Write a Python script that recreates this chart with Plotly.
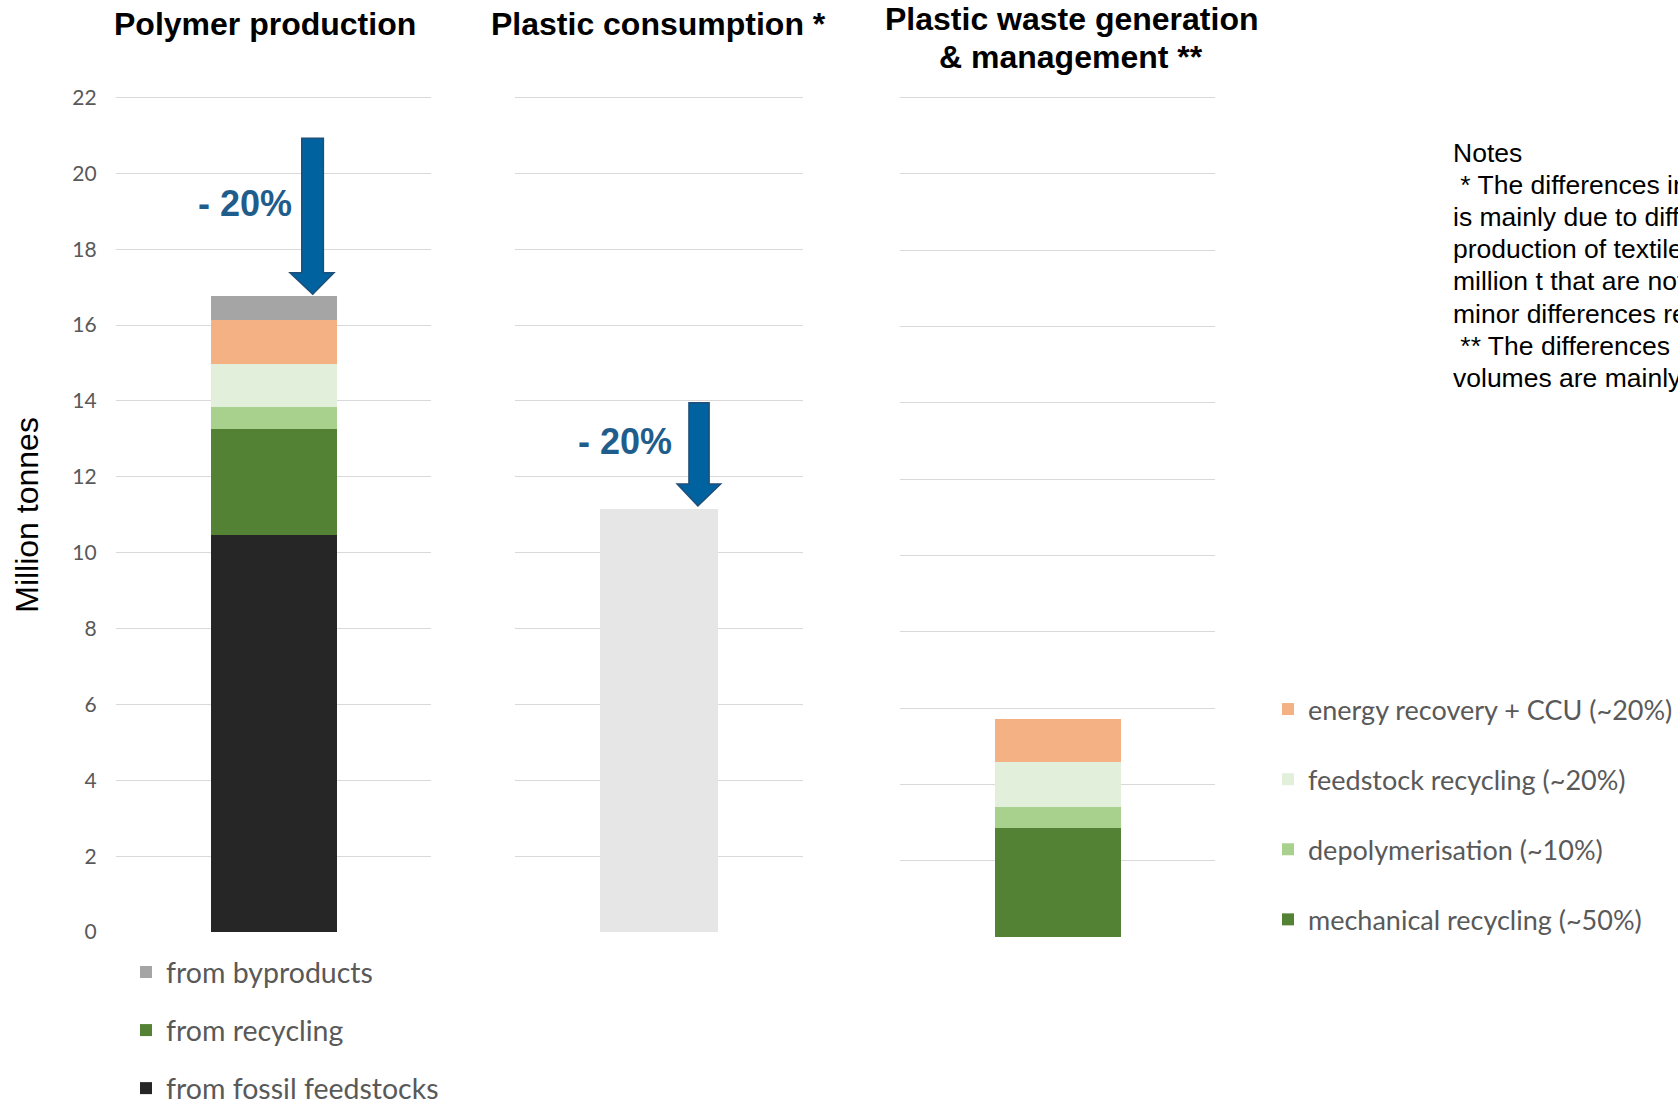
import plotly.graph_objects as go

# ---------------- data ----------------
panel_titles = ["Polymer production", "Plastic consumption *",
                "Plastic waste generation<br>& management **"]
poly_cat = ["Polymer production"]
cons_cat = ["Plastic consumption"]
waste_cat = ["Plastic waste"]

fossil_feedstocks = [10.47]
poly_mechanical = [2.80]
poly_depolymerisation = [0.57]
poly_feedstock = [1.15]
poly_energy = [1.15]
from_byproducts = [0.64]

plastic_consumption = [11.17]

waste_mechanical = [2.85]
waste_depolymerisation = [0.55]
waste_feedstock = [1.18]
waste_energy = [1.12]

legend1_labels = ["from byproducts", "from recycling", "from fossil feedstocks"]
legend2_labels = ["energy recovery + CCU (~20%)", "feedstock recycling (~20%)",
                  "depolymerisation (~10%)", "mechanical recycling (~50%)"]

reduction_label = "- 20%"
# arrows: (top value, head start value, tip value) in data units
arrow_poly = [20.92, 17.38, 16.81]
arrow_cons = [13.95, 11.81, 11.23]

notes_lines = [
    "Notes",
    "\u00a0* The differences in polymer production and plastic consumption",
    "is mainly due to differences in the scope, e.g. the",
    "production of textile fibres of approx. 3",
    "million t that are not included in plastic consumption;",
    "minor differences result from trade.",
    "\u00a0** The differences between consumption and waste",
    "volumes are mainly due to long-lived products.",
]

# ---------------- styles ----------------
C_FOSSIL = "#262626"
C_MECH = "#548235"
C_DEPOL = "#A9D18E"
C_FEED = "#E2EFDA"
C_ENERGY = "#F4B183"
C_BYPROD = "#A5A5A5"
C_CONS = "#E7E6E6"
GRID = "#D9D9D9"
ARROW_FILL = "#00629E"
ARROW_LINE = "#1F4E79"
PCT_COLOR = "#1F5E8C"
LEG_FONT1 = dict(family="Lato, Carlito, sans-serif", size=28.5, color="#595959")
LEG_FONT2 = dict(family="Lato, Carlito, sans-serif", size=27, color="#595959")
TITLE_FONT = dict(family="Liberation Sans, Arial, sans-serif", size=32, color="#000000")

W, H = 1678, 1101
YTOP = 22.05  # a hair above 22 so the top gridline is drawn

fig = go.Figure()
BW = 0.4


def bar(x, y, color, axis, name, legend=None, rank=None, show=False, width=BW):
    return go.Bar(x=x, y=y, name=name, marker=dict(color=color, line=dict(width=0)),
                  width=width, xaxis="x" + axis, yaxis="y" + axis,
                  legend=legend if legend else "legend", legendrank=rank if rank else 1000,
                  showlegend=show, legendgroup=name, hoverinfo="skip")


fig.add_trace(bar(poly_cat, fossil_feedstocks, C_FOSSIL, "", legend1_labels[2], "legend", 3, True))
fig.add_trace(bar(poly_cat, poly_mechanical, C_MECH, "", legend1_labels[1], "legend", 2, True))
fig.add_trace(bar(poly_cat, poly_depolymerisation, C_DEPOL, "", "p_depol"))
fig.add_trace(bar(poly_cat, poly_feedstock, C_FEED, "", "p_feed"))
fig.add_trace(bar(poly_cat, poly_energy, C_ENERGY, "", "p_energy"))
fig.add_trace(bar(poly_cat, from_byproducts, C_BYPROD, "", legend1_labels[0], "legend", 1, True))

fig.add_trace(bar(cons_cat, plastic_consumption, C_CONS, "2", "consumption", width=0.412))

fig.add_trace(bar(waste_cat, waste_mechanical, C_MECH, "3", legend2_labels[3], "legend2", 4, True))
fig.add_trace(bar(waste_cat, waste_depolymerisation, C_DEPOL, "3", legend2_labels[2], "legend2", 3, True))
fig.add_trace(bar(waste_cat, waste_feedstock, C_FEED, "3", legend2_labels[1], "legend2", 2, True))
fig.add_trace(bar(waste_cat, waste_energy, C_ENERGY, "3", legend2_labels[0], "legend2", 1, True))

# panel domains (paper fractions); pixel rows of value 0 and value 22
xdom = [[115.6 / W, 431.0 / W], [515.0 / W, 803.0 / W], [900.0 / W, 1215.0 / W]]
zero_px = [932.1, 932.1, 937.3]
top_px = [97.4, 97.4, 97.4]
ydom = []
for z, t in zip(zero_px, top_px):
    per = (z - t) / 22.0
    ydom.append([1 - z / H, 1 - (z - per * YTOP) / H])

yaxis_common = dict(range=[0, YTOP], tickvals=list(range(0, 23, 2)), showgrid=True,
                    gridcolor=GRID, gridwidth=1.3, zeroline=False, showline=False,
                    fixedrange=True, automargin=False)
xaxis_common = dict(range=[-0.5, 0.5], showticklabels=False, showgrid=False, zeroline=False,
                    showline=False, type="category", automargin=False, fixedrange=True)

layout = dict(
    width=W, height=H, barmode="stack", plot_bgcolor="white", paper_bgcolor="white",
    margin=dict(l=0, r=0, t=0, b=0, autoexpand=False), bargap=0,
    xaxis=dict(domain=xdom[0], anchor="y", **xaxis_common),
    xaxis2=dict(domain=xdom[1], anchor="y2", **xaxis_common),
    xaxis3=dict(domain=xdom[2], anchor="y3", **xaxis_common),
    yaxis=dict(domain=ydom[0], anchor="x", showticklabels=True,
               tickfont=dict(family="Lato, Carlito, sans-serif", size=21, color="#595959"),
               ticklabelstandoff=18, **yaxis_common),
    yaxis2=dict(domain=ydom[1], anchor="x2", showticklabels=False, **yaxis_common),
    yaxis3=dict(domain=ydom[2], anchor="x3", showticklabels=False, **yaxis_common),
    legend=dict(x=126 / W, y=1 - 947 / H, xanchor="left", yanchor="top", font=LEG_FONT1,
                tracegroupgap=18, traceorder="grouped", bgcolor="rgba(0,0,0,0)"),
    legend2=dict(x=1268 / W, y=1 - 685 / H, xanchor="left", yanchor="top", font=LEG_FONT2,
                 tracegroupgap=32, traceorder="grouped", bgcolor="rgba(0,0,0,0)"),
)
fig.update_layout(**layout)

# panel titles (multi-line titles placed line by line)
title_x = [265.4 / W, 658.7 / W, 1071.0 / W]
title_y = [23.5, 23.5, 19.3]
LINE_STEP = 37.4
for t, x, y0 in zip(panel_titles, title_x, title_y):
    for i, line in enumerate(t.split("<br>")):
        fig.add_annotation(text="<b>" + line + "</b>", x=x, y=1 - (y0 + i * LINE_STEP) / H,
                           xref="paper", yref="paper", xanchor="center", yanchor="middle",
                           showarrow=False, font=TITLE_FONT)

# y-axis title
fig.add_annotation(text="Million tonnes", x=27 / W, y=1 - 481 * 1.0702 / H, xref="paper",
                   yref="paper", textangle=-90, showarrow=False, xanchor="center",
                   yanchor="middle",
                   font=dict(family="Liberation Sans, Arial, sans-serif", size=32, color="#000000"))


# arrows (shape paths in axis-domain x / data y)
def arrow_path(vals, shaft, head, tip_x):
    top, hs, tip = vals
    return (f"M {shaft[0]} {top} L {shaft[1]} {top} L {shaft[1]} {hs} L {head[1]} {hs} "
            f"L {tip_x} {tip} L {head[0]} {hs} L {shaft[0]} {hs} Z")


fig.add_shape(type="path", xref="x domain", yref="y",
              path=arrow_path(arrow_poly, (0.5903, 0.6588), (0.5529, 0.6924), 0.6250),
              fillcolor=ARROW_FILL, line=dict(color=ARROW_LINE, width=1.5))
fig.add_shape(type="path", xref="x2 domain", yref="y2",
              path=arrow_path(arrow_cons, (0.604, 0.674), (0.563, 0.714), 0.635),
              fillcolor=ARROW_FILL, line=dict(color=ARROW_LINE, width=1.5))

pct_font = dict(family="Liberation Sans, Arial, sans-serif", size=36, color=PCT_COLOR)
fig.add_annotation(text="<b>" + reduction_label + "</b>", x=244.5 / W, y=1 - 204 / H,
                   xref="paper", yref="paper", xanchor="center", yanchor="middle",
                   showarrow=False, font=pct_font)
fig.add_annotation(text="<b>" + reduction_label + "</b>", x=625 / W, y=1 - 441.5 / H,
                   xref="paper", yref="paper", xanchor="center", yanchor="middle",
                   showarrow=False, font=pct_font)

# notes, one line per annotation for exact spacing
NOTES_TOP = 153.0
NOTES_STEP = 32.1
for i, line in enumerate(notes_lines):
    fig.add_annotation(text=line, x=1451 / W, y=1 - (NOTES_TOP + i * NOTES_STEP) / H,
                       xref="paper", yref="paper", xanchor="left", yanchor="middle",
                       align="left", showarrow=False,
                       font=dict(family="Liberation Sans, Arial, sans-serif", size=26.5,
                                 color="#000000"))

fig.write_html("out.html", config={"displayModeBar": False},
               post_script="document.body.style.margin='0';document.body.style.overflow='hidden';")
